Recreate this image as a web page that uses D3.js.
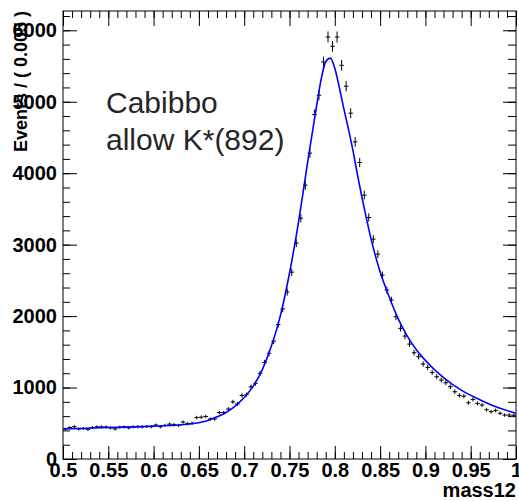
<!DOCTYPE html>
<html>
<head>
<meta charset="utf-8">
<script src="https://cdn.jsdelivr.net/npm/d3@7"></script>
<style>
  body { margin: 0; background: #fff; }
  text { font-family: "Liberation Sans", Arial, Helvetica, sans-serif; }
</style>
</head>
<body>
<div id="chart"></div>
<script>
// histogram of mass12, 100 bins of 0.005 from 0.5 to 1.0
var binLow = 0.5, binWidth = 0.005;
var counts = [
  420, 440, 452, 420, 425, 415, 440, 450, 450, 448,
  435, 420, 445, 448, 435, 450, 452, 450, 455, 452,
  475, 450, 470, 488, 480, 470, 517, 495, 500, 580,
  585, 595, 560, 560, 650, 650, 700, 800, 770, 890,
  900, 1010, 1060, 1200, 1350, 1480, 1650, 1880, 2100, 2336,
  2615, 3021, 3371, 3832, 4280, 4821, 5091, 5557, 5906, 5776,
  5906, 5510, 5217, 4840, 4438, 4150, 3692, 3380, 3077, 2867,
  2573, 2364, 2224, 1990, 1828, 1720, 1608, 1487, 1431, 1329,
  1282, 1210, 1151, 1105, 1067, 1011, 941, 890, 880, 787,
  834, 778, 755, 690, 662, 680, 640, 615, 615, 612
];

// fit curve
var fitMass = [0.5, 0.55, 0.6, 0.64, 0.66, 0.67, 0.68, 0.69, 0.70, 0.71, 0.72, 0.73, 0.74, 0.75,
               0.76, 0.77, 0.78, 0.785, 0.79, 0.795, 0.80, 0.805, 0.81, 0.815, 0.82, 0.825, 0.83, 0.835,
               0.84, 0.85, 0.86, 0.87, 0.88, 0.89, 0.90, 0.91, 0.92, 0.94, 0.96, 0.98, 1.0];
var fitValue = [420, 440, 460, 490, 540, 590, 650, 740, 860, 1020, 1250, 1580, 2010, 2600,
                3320, 4150, 4950, 5320, 5560, 5610, 5470, 5200, 4900, 4620, 4320, 3980, 3660, 3360,
                3080, 2620, 2270, 1960, 1720, 1530, 1380, 1250, 1140, 960, 830, 720, 640];

var xMajor = [0.5, 0.55, 0.6, 0.65, 0.7, 0.75, 0.8, 0.85, 0.9, 0.95, 1];
var xLabels = ["0.5", "0.55", "0.6", "0.65", "0.7", "0.75", "0.8", "0.85", "0.9", "0.95", "1"];
var yMajor = [0, 1000, 2000, 3000, 4000, 5000, 6000];
var yMax = 6270;

var W = 519, H = 501;
var margin = { top: 11, right: 3, bottom: 42, left: 63 };
var iw = W - margin.left - margin.right, ih = H - margin.top - margin.bottom;

var svg = d3.select('#chart').append('svg')
    .attr('width', W).attr('height', H);
var g = svg.append('g').attr('transform', `translate(${margin.left}, ${margin.top})`);

var x = d3.scaleLinear().domain([0.5, 1]).range([0, iw]);
var y = d3.scaleLinear().domain([0, yMax]).range([ih, 0]);

var xMinor = d3.range(50, 101).map(d => d / 100);
var yMinor = d3.range(0, 6201, 200);

function styleAxis(sel) {
  sel.select('.domain').remove();
  sel.selectAll('line').attr('stroke', '#000');
}

// minor ticks, all four sides
g.append('g').attr('transform', `translate(0, ${ih})`)
  .call(d3.axisBottom(x).tickValues(xMinor).tickSize(-7).tickFormat(''))
  .call(styleAxis);
g.append('g')
  .call(d3.axisTop(x).tickValues(xMinor).tickSize(-7).tickFormat(''))
  .call(styleAxis);
g.append('g')
  .call(d3.axisLeft(y).tickValues(yMinor).tickSize(-7).tickFormat(''))
  .call(styleAxis);
g.append('g').attr('transform', `translate(${iw}, 0)`)
  .call(d3.axisRight(y).tickValues(yMinor).tickSize(-8).tickFormat(''))
  .call(styleAxis);

// major ticks with labels
g.append('g').attr('transform', `translate(0, ${ih})`)
  .call(d3.axisBottom(x).tickValues(xMajor).tickSize(-13).tickPadding(4)
          .tickFormat((d, i) => xLabels[i]))
  .call(styleAxis)
  .selectAll('text').attr('fill', '#000').attr('font-size', 20).attr('font-weight', 'bold')
  .style('font-family', '"Liberation Sans", Arial, sans-serif');
g.append('g')
  .call(d3.axisTop(x).tickValues(xMajor).tickSize(-15).tickFormat(''))
  .call(styleAxis);
g.append('g')
  .call(d3.axisLeft(y).tickValues(yMajor).tickSize(-14).tickPadding(6).tickFormat(d3.format('d')))
  .call(styleAxis)
  .selectAll('text').attr('fill', '#000').attr('font-size', 20).attr('font-weight', 'bold')
  .style('font-family', '"Liberation Sans", Arial, sans-serif');
g.append('g').attr('transform', `translate(${iw}, 0)`)
  .call(d3.axisRight(y).tickValues(yMajor).tickSize(-13).tickFormat(''))
  .call(styleAxis);

// frame
g.append('rect').attr('width', iw).attr('height', ih)
  .attr('fill', 'none').attr('stroke', '#000').attr('stroke-width', 1);

// data points with errors
var pts = g.append('g').attr('stroke', '#000').attr('stroke-width', 1);
counts.forEach(function(c, i) {
  var lo = binLow + i * binWidth, mid = lo + binWidth / 2, err = Math.sqrt(c);
  pts.append('line')
    .attr('x1', x(lo)).attr('x2', x(lo + binWidth))
    .attr('y1', y(c)).attr('y2', y(c));
  pts.append('line')
    .attr('x1', x(mid)).attr('x2', x(mid))
    .attr('y1', y(c - err)).attr('y2', y(c + err));
});

// fit
var fitLine = d3.line()
  .x((d, i) => x(fitMass[i]))
  .y(d => y(d))
  .curve(d3.curveMonotoneX);
g.append('path').datum(fitValue)
  .attr('d', fitLine)
  .attr('fill', 'none').attr('stroke', '#0000ff').attr('stroke-width', 1.6);

// axis titles
svg.append('text')
  .attr('x', 516).attr('y', 497).attr('text-anchor', 'end')
  .attr('font-size', 20).attr('font-weight', 'bold').attr('fill', '#000')
  .text('mass12');
svg.append('text')
  .attr('transform', 'translate(27, 11) rotate(-90)').attr('text-anchor', 'end')
  .attr('font-size', 18).attr('font-weight', 'bold').attr('fill', '#000')
  .text('Events / ( 0.005 )');

// annotation
var note = svg.append('text').attr('font-size', 30).attr('fill', '#262626');
note.append('tspan').attr('x', 106).attr('y', 113).text('Cabibbo');
note.append('tspan').attr('x', 106).attr('y', 150).text('allow K*(892)');
</script>
</body>
</html>
